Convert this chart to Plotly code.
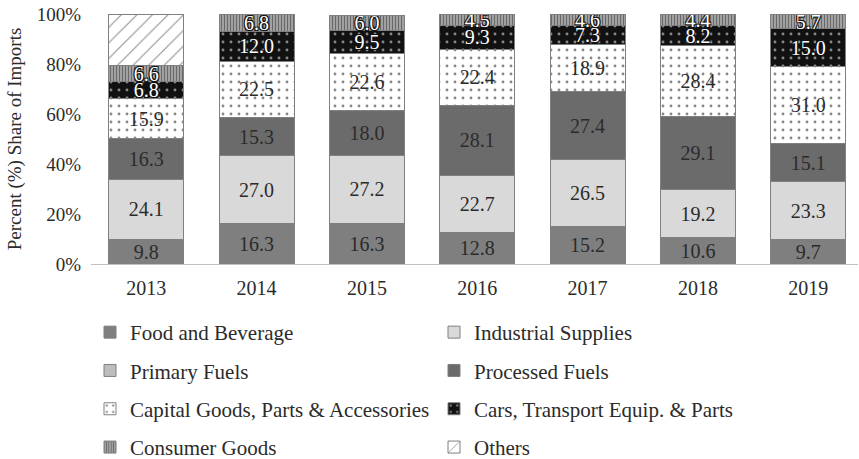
import plotly.graph_objects as go

years = ["2013", "2014", "2015", "2016", "2017", "2018", "2019"]

food_beverage = [9.8, 16.3, 16.3, 12.8, 15.2, 10.6, 9.7]
industrial_supplies = [24.1, 27.0, 27.2, 22.7, 26.5, 19.2, 23.3]
primary_fuels = [0, 0, 0, 0, 0, 0, 0]
processed_fuels = [16.3, 15.3, 18.0, 28.1, 27.4, 29.1, 15.1]
capital_goods = [15.9, 22.5, 22.6, 22.4, 18.9, 28.4, 31.0]
cars_transport = [6.8, 12.0, 9.5, 9.3, 7.3, 8.2, 15.0]
consumer_goods = [6.6, 6.8, 6.0, 4.5, 4.6, 4.4, 5.7]
others = [20.5, 0, 0, 0, 0, 0, 0]

y_tick_values = [0, 20, 40, 60, 80, 100]
y_tick_labels = ["0%", "20%", "40%", "60%", "80%", "100%"]

FONT = "Liberation Serif"
TXT = "#2b2b2b"
OUTLINE = "1px 1px 0 #111, -1px -1px 0 #111, 1px -1px 0 #111, -1px 1px 0 #111"


def labels(vals, show=True):
    return [f"{v:.1f}" if (show and v > 0) else "" for v in vals]


series = [
    # name, values, legend, fill style, text colour, outlined text, labelled
    ("Food and Beverage", food_beverage, "legend",
     dict(color="#7f7f7f"), TXT, False, True),
    ("Industrial Supplies", industrial_supplies, "legend2",
     dict(color="#d9d9d9"), TXT, False, True),
    ("Primary Fuels", primary_fuels, "legend",
     dict(color="#bdbdbd"), TXT, False, True),
    ("Processed Fuels", processed_fuels, "legend2",
     dict(color="#6b6b6b"), TXT, False, True),
    ("Capital Goods, Parts & Accessories", capital_goods, "legend",
     dict(color="white", pattern=dict(shape=".", fgcolor="#111", bgcolor="white",
                                      size=8, solidity=0.1)), TXT, False, True),
    ("Cars, Transport Equip. & Parts", cars_transport, "legend2",
     dict(color="#111", pattern=dict(shape=".", fgcolor="white", bgcolor="#111",
                                     size=8, solidity=0.1)), "white", True, True),
    ("Consumer Goods", consumer_goods, "legend",
     dict(color="#555", pattern=dict(shape="|", fgcolor="#1e1e1e", bgcolor="#b4b4b4",
                                     size=3, solidity=0.5)), "white", True, True),
    ("Others", others, "legend2",
     dict(color="white", pattern=dict(shape="/", fgcolor="#222", bgcolor="white",
                                      size=11, solidity=0.1)), TXT, False, False),
]

fig = go.Figure()
for i, (name, vals, leg, fill, tcol, outline, show) in enumerate(series):
    tf = dict(family=FONT, size=20, color=tcol)
    if outline:
        tf["shadow"] = OUTLINE
    fig.add_trace(go.Bar(
        x=years, y=vals, name=name, legend=leg, legendgroup=name,
        marker=dict(line=dict(color="#808080", width=1), **fill),
        text=labels(vals, show), textposition="inside", insidetextanchor="middle",
        textangle=0, constraintext="none", textfont=tf,
        hoverinfo="x+y+name",
    ))

legend_common = dict(
    orientation="v", traceorder="grouped", tracegroupgap=8,
    font=dict(family=FONT, size=21, color=TXT),
    bgcolor="rgba(0,0,0,0)", xanchor="left", yanchor="top",
    itemclick=False, itemdoubleclick=False,
)

PLOT_L, PLOT_W = 91, 767
PLOT_T, PLOT_H = 14, 250


def px_x(x):
    return (x - PLOT_L) / PLOT_W


def px_y(y):
    return (PLOT_T + PLOT_H - y) / PLOT_H


fig.update_layout(
    width=859, height=459,
    margin=dict(l=PLOT_L, r=859 - PLOT_L - PLOT_W, t=PLOT_T,
                b=459 - PLOT_T - PLOT_H, autoexpand=False),
    paper_bgcolor="white", plot_bgcolor="white",
    barmode="stack", bargap=0.32,
    font=dict(family=FONT, size=19, color=TXT),
    showlegend=True,
    legend=dict(x=px_x(90), y=px_y(312), **legend_common),
    legend2=dict(x=px_x(434), y=px_y(312), **legend_common),
    xaxis=dict(type="category", range=[-0.5, 6.45], showline=True,
               linecolor="#c0c0c0", linewidth=1, showgrid=False, zeroline=False,
               ticks="outside", ticklen=6, tickcolor="rgba(0,0,0,0)",
               tickfont=dict(family=FONT, size=20, color=TXT)),
    yaxis=dict(range=[0, 100], tickvals=y_tick_values, ticktext=y_tick_labels,
               showgrid=False, showline=False, zeroline=False,
               ticks="outside", ticklen=5, tickcolor="rgba(0,0,0,0)",
               tickfont=dict(family=FONT, size=19, color=TXT),
               title=dict(text="Percent (%) Share of Imports", standoff=10,
                          font=dict(family=FONT, size=19, color=TXT))),
)

fig.write_html("out.html")
